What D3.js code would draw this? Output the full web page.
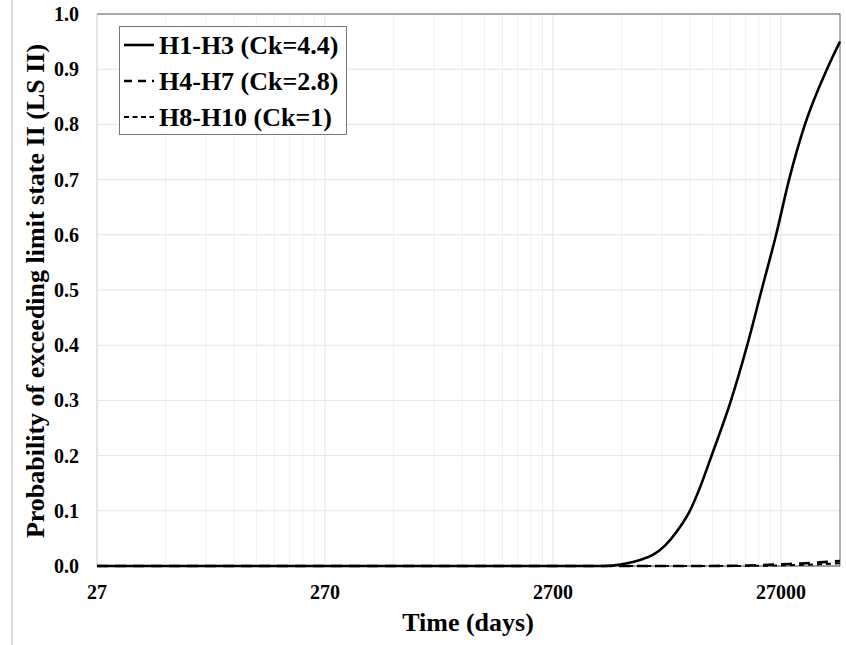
<!DOCTYPE html>
<html>
<head>
<meta charset="utf-8">
<script src="https://cdn.jsdelivr.net/npm/d3@7"></script>
<style>
  body { margin: 0; background: #fff; }
  text { font-family: "Liberation Serif", "Times New Roman", serif; font-weight: bold; fill: #000; }
</style>
</head>
<body>
<svg id="chart" width="846" height="645"></svg>
<script>
// data
const seriesNames = ["H1-H3 (Ck=4.4)", "H4-H7 (Ck=2.8)", "H8-H10 (Ck=1)"];
const h1Days = [27, 1000, 4500, 5700, 6500, 7400, 8365, 9450, 10670, 11910, 13400, 16300, 19200, 22200, 25700, 29300, 34400, 42950, 49000];
const h1Prob = [0, 0, 0, 0.005, 0.011, 0.02, 0.037, 0.063, 0.097, 0.142, 0.2, 0.3, 0.4, 0.5, 0.6, 0.7, 0.8, 0.9, 0.95];
const h4Days = [27, 12000, 17000, 22000, 27000, 33000, 40000, 49000];
const h4Prob = [0, 0, 0.0005, 0.0015, 0.003, 0.0045, 0.0065, 0.009];
const h8Days = [27, 17000, 22000, 27000, 33000, 40000, 49000];
const h8Prob = [0, 0, 0.0004, 0.001, 0.002, 0.003, 0.005];
const xTicks = [27, 270, 2700, 27000];
const yTicks = [0, 0.1, 0.2, 0.3, 0.4, 0.5, 0.6, 0.7, 0.8, 0.9, 1.0];

const svg = d3.select("#chart");
const pLeft = 97, pRight = 840, pTop = 14, pBottom = 566;

const x = d3.scaleLog().domain([27, 49000]).range([pLeft, pRight]);
const y = d3.scaleLinear().domain([0, 1]).range([pBottom, pTop]);

// outer frame line on the left
svg.append("line").attr("x1", 12).attr("x2", 12).attr("y1", 0).attr("y2", 645)
  .attr("stroke", "#c8c8c8").attr("stroke-width", 1.2);

// minor grid (2..9 times each decade)
const minor = [];
xTicks.forEach(d => {
  for (let k = 2; k <= 9; k++) if (d * k < 49000) minor.push(d * k);
});
svg.append("g").selectAll("line").data(minor).join("line")
  .attr("x1", d => x(d)).attr("x2", d => x(d))
  .attr("y1", pTop).attr("y2", pBottom)
  .attr("stroke", "#f0f0f0").attr("stroke-width", 1);

// major grid
svg.append("g").selectAll("line").data(xTicks).join("line")
  .attr("x1", d => x(d)).attr("x2", d => x(d))
  .attr("y1", pTop).attr("y2", pBottom)
  .attr("stroke", "#e4e4e4").attr("stroke-width", 1);
svg.append("g").selectAll("line").data(yTicks.slice(1, -1)).join("line")
  .attr("x1", pLeft).attr("x2", pRight)
  .attr("y1", d => y(d)).attr("y2", d => y(d))
  .attr("stroke", "#e4e4e4").attr("stroke-width", 1);

// plot border top / right
svg.append("path")
  .attr("d", `M${pLeft},${pTop}H${pRight}V${pBottom}`)
  .attr("fill", "none").attr("stroke", "#8a8a8a").attr("stroke-width", 1.3);
svg.append("line").attr("x1", pLeft).attr("x2", pLeft).attr("y1", pTop).attr("y2", pBottom)
  .attr("stroke", "#d8d8d8");
svg.append("line").attr("x1", pLeft).attr("x2", pRight).attr("y1", pBottom).attr("y2", pBottom)
  .attr("stroke", "#444").attr("stroke-width", 1);

// axes labels
svg.append("g").attr("transform", `translate(0,599)`)
  .selectAll("text").data(xTicks).join("text")
  .attr("x", d => x(d)).attr("text-anchor", "middle")
  .attr("font-size", 20).text(d => d);
svg.append("g").selectAll("text").data(yTicks).join("text")
  .attr("x", 79).attr("y", d => y(d) + 7).attr("text-anchor", "end")
  .attr("font-size", 20).text(d => d.toFixed(1));

svg.append("text").attr("x", 468).attr("y", 631).attr("text-anchor", "middle")
  .attr("font-size", 26).text("Time (days)");
svg.append("text").attr("transform", "translate(44,291) rotate(-90)")
  .attr("text-anchor", "middle").attr("font-size", 26)
  .text("Probability of exceeding limit state II (LS II)");

// lines
const series = [
  { name: seriesNames[0], days: h1Days, prob: h1Prob, dash: null, w: 2.6 },
  { name: seriesNames[1], days: h4Days, prob: h4Prob, dash: "11,7", w: 2.6 },
  { name: seriesNames[2], days: h8Days, prob: h8Prob, dash: "5,4", w: 2 }
];
const line = d3.line().x(d => x(d[0])).y(d => y(d[1])).curve(d3.curveMonotoneX);
svg.append("clipPath").attr("id", "clip").append("rect")
  .attr("x", pLeft).attr("y", pTop - 2).attr("width", pRight - pLeft + 1).attr("height", pBottom - pTop + 6);
svg.append("g").attr("clip-path", "url(#clip)")
  .selectAll("path").data(series.slice().reverse()).join("path")
  .attr("d", s => line(s.days.map((d, i) => [d, s.prob[i]])))
  .attr("fill", "none").attr("stroke", "#000")
  .attr("stroke-width", s => s.w)
  .attr("stroke-dasharray", s => s.dash);

// legend
const lg = svg.append("g");
lg.append("rect").attr("x", 119.5).attr("y", 26.5).attr("width", 227).attr("height", 108)
  .attr("fill", "#fff").attr("stroke", "#777").attr("stroke-width", 1);
series.forEach((s, i) => {
  const yy = 45 + i * 36;
  lg.append("line").attr("x1", 124).attr("x2", 154).attr("y1", yy).attr("y2", yy)
    .attr("stroke", "#000").attr("stroke-width", s.w)
    .attr("stroke-dasharray", i === 1 ? "8,6" : (i === 2 ? "5,3.5" : null));
  lg.append("text").attr("x", 159).attr("y", yy + 9).attr("font-size", 26).text(s.name);
});
</script>
</body>
</html>
